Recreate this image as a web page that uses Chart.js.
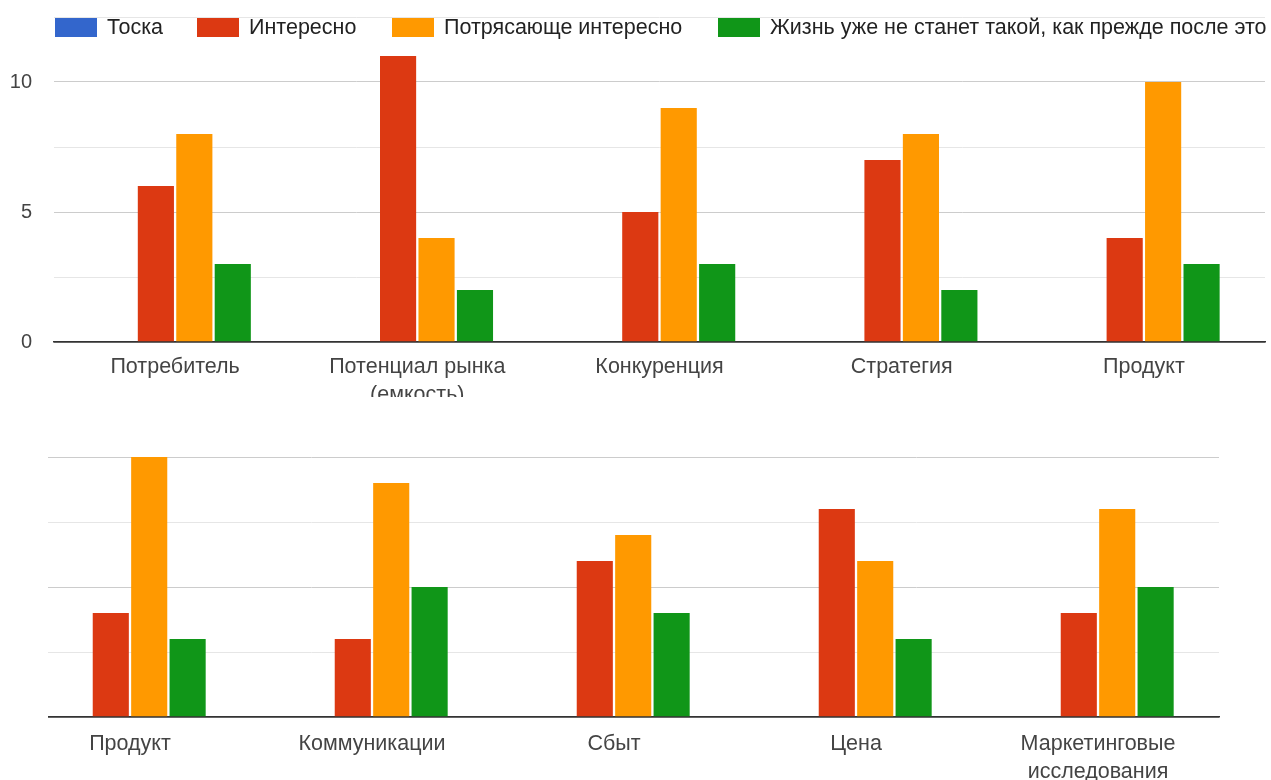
<!DOCTYPE html>
<html>
<head>
<meta charset="utf-8">
<script src="https://cdn.jsdelivr.net/npm/chart.js@4"></script>
<style>
  html, body { margin: 0; padding: 0; background: #fff; width: 1271px; height: 780px; overflow: hidden; }
  body { position: relative; font-family: "Liberation Sans", Arial, sans-serif; }
  #top { position: absolute; left: 0; top: 0; width: 1271px; height: 397px; overflow: hidden; }
  #bottom { position: absolute; left: 0; top: 400px; width: 1271px; height: 380px; overflow: hidden; }
  #legend { position: absolute; left: 0; top: 14px; width: 1271px; height: 28px; white-space: nowrap; font-size: 21.5px; color: #222; z-index: 2; }
  .item { position: absolute; top: 0; height: 26px; line-height: 26px; display: flex; align-items: center; }
  .box { width: 42px; height: 19px; margin-right: 10px; flex: none; }
</style>
</head>
<body>
<div id="top"><canvas id="c1" width="1271" height="420"></canvas></div>
<div id="legend"></div>
<div id="bottom"><canvas id="c2" width="1271" height="380"></canvas></div>
<script>
// ---- data ----
const seriesNames = ['Тоска', 'Интересно', 'Потрясающе интересно', 'Жизнь уже не станет такой, как прежде после это'];
const seriesColors = ['#3366cc', '#dc3912', '#ff9900', '#109618'];

const topCategories = ['Потребитель', ['Потенциал рынка', '(емкость)'], 'Конкуренция', 'Стратегия', 'Продукт'];
const topToska      = [0, 0, 0, 0, 0];
const topInteresno  = [6, 11, 5, 7, 4];
const topPotr       = [8, 4, 9, 8, 10];
const topZhizn      = [3, 2, 3, 2, 3];

const bottomCategories = ['Продукт', 'Коммуникации', 'Сбыт', 'Цена', ['Маркетинговые', 'исследования']];
const bottomToska      = [0, 0, 0, 0, 0];
const bottomInteresno  = [4, 3, 6, 8, 4];
const bottomPotr       = [10, 9, 7, 6, 8];
const bottomZhizn      = [3, 5, 4, 3, 5];

const yTickValues = [0, 5, 10];

// ---- legend (HTML, overlaid on the top chart as in the original) ----
const legendLefts = [55, 197, 392, 718];
const legend = document.getElementById('legend');
seriesNames.forEach((n, i) => {
  const it = document.createElement('div'); it.className = 'item'; it.style.left = legendLefts[i] + 'px';
  const b = document.createElement('div'); b.className = 'box'; b.style.background = seriesColors[i];
  const t = document.createElement('span'); t.textContent = n;
  it.appendChild(b); it.appendChild(t); legend.appendChild(it);
});

function makeDatasets(arrs) {
  return arrs.map((d, i) => ({
    label: seriesNames[i], data: d, backgroundColor: seriesColors[i], borderWidth: 0,
    categoryPercentage: 0.635, barPercentage: 0.94
  }));
}
function gridColor(ctx) {
  const v = ctx.tick && ctx.tick.value;
  if (v === 0) return '#333333';
  if (v % 5 === 0) return '#cccccc';
  return '#e6e6e6';
}
const tickFont = { family: '"Liberation Sans", Arial, sans-serif', size: 21.5, lineHeight: 1.3 };
const yFont = { family: '"Liberation Sans", Arial, sans-serif', size: 20 };
function zeroPad(s) { s.paddingTop = 0; s.paddingBottom = 0; s.paddingLeft = 0; s.paddingRight = 0; }

Chart.defaults.animation = false;

new Chart(document.getElementById('c1'), {
  type: 'bar',
  data: { labels: topCategories, datasets: makeDatasets([topToska, topInteresno, topPotr, topZhizn]) },
  options: {
    responsive: false, devicePixelRatio: 1,
    layout: { padding: { top: 17, right: 6, left: 0, bottom: 0 } },
    plugins: { legend: { display: false }, tooltip: { enabled: false } },
    scales: {
      x: {
        grid: { display: false, drawTicks: false },
        border: { color: '#333333', width: 1.5 },
        ticks: { font: tickFont, color: '#444444', padding: 11, maxRotation: 0, autoSkip: false },
        afterFit: s => { s.height = 78; zeroPad(s); }
      },
      y: {
        min: 0, max: 12.5,
        grid: { color: gridColor, lineWidth: c => (c.tick && c.tick.value === 0 ? 1.5 : 1), drawTicks: false },
        border: { display: false },
        ticks: { stepSize: 2.5, includeBounds: false, font: yFont, color: '#444444', padding: 22,
                 callback: v => (yTickValues.includes(v) ? String(v) : '') },
        afterFit: s => { s.width = 54; zeroPad(s); }
      }
    }
  }
});

const hideLeftGrid = {
  id: 'hideLeftGrid',
  beforeDatasetsDraw(chart) {
    const a = chart.chartArea, c = chart.ctx;
    c.save(); c.fillStyle = '#ffffff';
    c.fillRect(0, a.top - 2, 48, a.bottom - a.top + 4);
    c.restore();
  }
};

new Chart(document.getElementById('c2'), {
  type: 'bar',
  data: { labels: bottomCategories, datasets: makeDatasets([bottomToska, bottomInteresno, bottomPotr, bottomZhizn]) },
  plugins: [hideLeftGrid],
  options: {
    responsive: false, devicePixelRatio: 1,
    layout: { padding: { top: 57, right: 52, left: 0, bottom: 0 } },
    plugins: { legend: { display: false }, tooltip: { enabled: false } },
    scales: {
      x: {
        grid: { display: false, drawTicks: false },
        border: { color: '#333333', width: 1.5 },
        ticks: { font: tickFont, color: '#444444', padding: 13, maxRotation: 0, autoSkip: false },
        afterFit: s => { s.height = 63; zeroPad(s); }
      },
      y: {
        min: 0, max: 10,
        grid: { color: gridColor, lineWidth: c => (c.tick && c.tick.value === 0 ? 1.5 : 1), drawTicks: false },
        border: { display: false },
        ticks: { stepSize: 2.5, display: false },
        afterFit: s => { s.width = 9; zeroPad(s); }
      }
    }
  }
});
</script>
</body>
</html>
